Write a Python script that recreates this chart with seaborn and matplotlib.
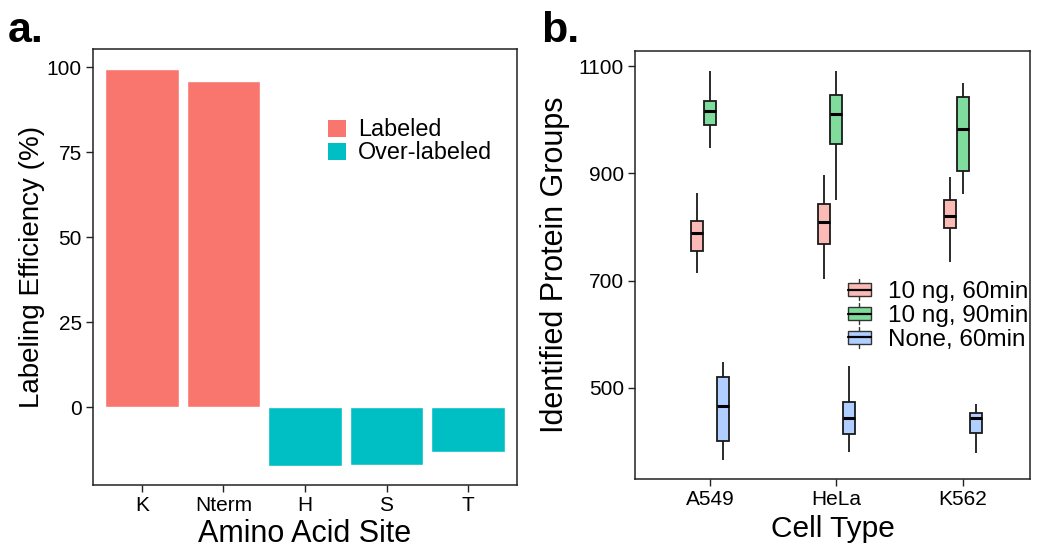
import numpy as np
import pandas as pd
import matplotlib
matplotlib.use("Agg")
import matplotlib.pyplot as plt
import seaborn as sns
from matplotlib.patches import Patch, Rectangle
from matplotlib.lines import Line2D
from matplotlib.legend_handler import HandlerBase

# ---------------- data: panel a ----------------
sites = ["K", "Nterm", "H", "S", "T"]
efficiency = [99.4, 95.8, -17.3, -16.9, -13.2]
label_type = ["Labeled", "Labeled", "Over-labeled", "Over-labeled", "Over-labeled"]
a_ticks = [0, 25, 50, 75, 100]

# ---------------- data: panel b (min, q1, median, q3, max) ----------------
cells = ["A549", "HeLa", "K562"]
conditions = ["10 ng, 60min", "10 ng, 90min", "None, 60min"]
ng10_60min = [[714, 756, 788, 811, 863], [703, 769, 809, 842, 897], [735, 799, 821, 850, 894]]
ng10_90min = [[948, 990, 1016, 1035, 1091], [851, 955, 1011, 1046, 1091], [861, 905, 983, 1042, 1068]]
none_60min = [[366, 401, 466, 521, 549], [380, 415, 445, 473, 541], [378, 416, 445, 454, 471]]
b_ticks = [500, 700, 900, 1100]

sns.set_theme(style="white")
plt.rcParams["font.family"] = ["Liberation Sans", "DejaVu Sans"]
plt.rcParams["text.color"] = "black"
plt.rcParams["axes.labelcolor"] = "black"

bar_colors = {"Labeled": "#F8766D", "Over-labeled": "#00BFC4"}
box_colors = {"10 ng, 60min": "#FBBAB6", "10 ng, 90min": "#80DC9C", "None, 60min": "#B0CEFF"}

fig = plt.figure(figsize=(10.5, 5.57), dpi=100)
ax1 = fig.add_axes([93 / 1050, (557 - 485) / 557, 424 / 1050, 436 / 557])
ax2 = fig.add_axes([635 / 1050, (557 - 479) / 557, 395 / 1050, 428 / 557])

# ---------- panel a ----------
df_a = pd.DataFrame({"site": sites, "eff": efficiency, "type": label_type})
sns.barplot(data=df_a, x="site", y="eff", hue="type", order=sites, dodge=False,
            palette=bar_colors, saturation=1, width=0.9, ax=ax1, legend=False)
ax1.set_xlim(-0.6, 4.6)
ax1.set_ylim(-22.9, 105.3)
ax1.set_yticks(a_ticks)
ax1.set_xlabel("Amino Acid Site", fontsize=22, labelpad=3)
ax1.set_ylabel("Labeling Efficiency (%)", fontsize=20, labelpad=1)
handles_a = [Patch(facecolor=bar_colors[k], edgecolor="none") for k in ["Labeled", "Over-labeled"]]
ax1.legend(handles_a, ["Labeled", "Over-labeled"], loc="center left",
           bbox_to_anchor=(0.554, 0.788), frameon=False, fontsize=16.8,
           handlelength=0.78, handleheight=0.78, handletextpad=0.5,
           labelspacing=0.0, borderpad=0, borderaxespad=0)

# ---------- panel b ----------
rows = []
for cond, stats in zip(conditions, [ng10_60min, ng10_90min, none_60min]):
    for cell, vals in zip(cells, stats):
        for v in vals:
            rows.append({"cell": cell, "cond": cond, "val": v})
df_b = pd.DataFrame(rows)
sns.boxplot(data=df_b, x="cell", y="val", hue="cond", order=cells, hue_order=conditions,
            palette=box_colors, saturation=1, width=0.3, gap=0.05, whis=np.inf,
            showcaps=False, linewidth=1.3, linecolor="#1a1a1a",
            medianprops={"linewidth": 2.2, "color": "black"}, ax=ax2, legend=False)
ax2.set_xlim(-0.593, 2.53)
ax2.set_ylim(330.4, 1128)
ax2.set_yticks(b_ticks)
ax2.set_xlabel("Cell Type", fontsize=21.5, labelpad=4)
ax2.set_ylabel("Identified Protein Groups", fontsize=22, labelpad=6)


class BoxHandler(HandlerBase):
    def __init__(self, color):
        super().__init__()
        self.color = color

    def create_artists(self, legend, orig_handle, xdescent, ydescent, width, height, fontsize, trans):
        cx = -xdescent + width / 2
        cy = -ydescent + height / 2
        bw = width
        bh = height * 0.62
        whisk = Line2D([cx, cx], [-ydescent, -ydescent + height], color="#333333", lw=1.0, transform=trans)
        rect = Rectangle((-xdescent, cy - bh / 2), bw, bh, facecolor=self.color,
                         edgecolor="#333333", lw=1.0, transform=trans)
        med = Line2D([-xdescent, -xdescent + bw], [cy, cy], color="black", lw=1.6, transform=trans)
        return [whisk, rect, med]


handles_b = [Patch(facecolor=box_colors[c]) for c in conditions]
ax2.legend(handles_b, conditions, loc="center left", bbox_to_anchor=(0.539, 0.383),
           frameon=False, fontsize=17.5, handlelength=0.95, handleheight=0.95,
           handletextpad=0.7, labelspacing=0.0, borderpad=0, borderaxespad=0,
           handler_map={h: BoxHandler(box_colors[c]) for h, c in zip(handles_b, conditions)})

for ax in (ax1, ax2):
    for s in ax.spines.values():
        s.set_visible(True)
        s.set_color("#222222")
        s.set_linewidth(1.1)
    ax.tick_params(axis="both", which="both", direction="out", length=5, width=1.0,
                   color="#222222", labelsize=15, labelcolor="black", pad=3,
                   bottom=True, left=True)
    ax.grid(False)

fig.text(8 / 1050, 1 - 42 / 557, "a.", fontsize=31, fontweight="bold", color="black",
         ha="left", va="baseline")
fig.text(541 / 1050, 1 - 42 / 557, "b.", fontsize=31, fontweight="bold", color="black",
         ha="left", va="baseline")

fig.savefig("out.png", dpi=100)
